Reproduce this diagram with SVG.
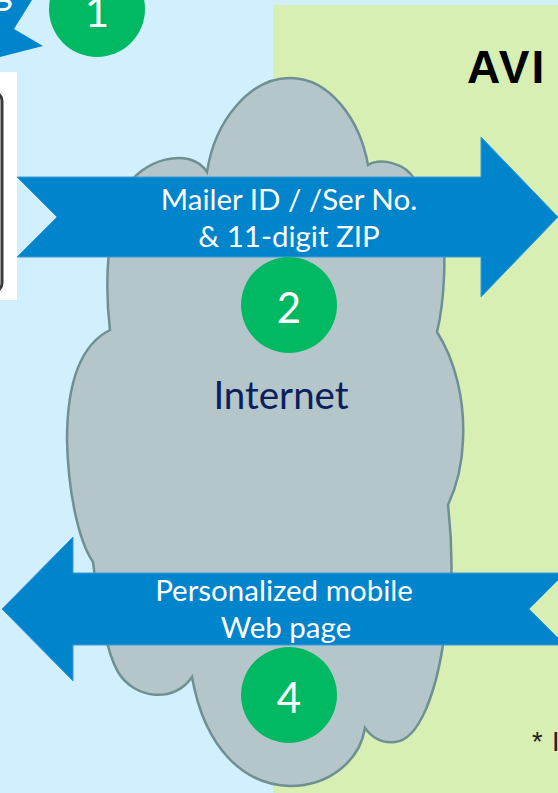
<svg xmlns="http://www.w3.org/2000/svg" width="558" height="793" viewBox="0 0 558 793">
<style>
.arrow{fill:#0084CB;stroke:#3A9BD8;stroke-width:1}
.badge{fill:#00B962}
.num{font-family:Lato,"Liberation Sans",sans-serif;font-size:42px;fill:#fff;text-anchor:middle}
.lbl{font-family:Lato,"Liberation Sans",sans-serif;font-size:29.5px;fill:#fff;text-anchor:middle}
</style>
<rect id="bg" x="0" y="0" width="558" height="793" fill="#D1EFFD"/>
<rect id="avi-panel" x="273" y="5" width="285" height="788" fill="#D8EFB3"/>
<g id="phone">
  <rect x="0" y="72" width="17" height="228" fill="#fff"/>
  <rect x="-40" y="92" width="42" height="200" rx="9" fill="none" stroke="#3a3a3a" stroke-width="3"/>
</g>
<g id="callout1">
  <polygon points="0,0 32,0 14,29 43,46 0,57" fill="#0084CB"/>
  <text x="-8" y="4" font-family="Lato,'Liberation Sans',sans-serif" font-size="40" fill="#fff">g</text>
</g>
<g id="step1">
  <circle class="badge" cx="97" cy="9" r="48"/>
  <text class="num" x="97" y="27">1</text>
</g>
<g id="cloud">
  <path d="M110,330 C104,280 108,220 125,190 C140,160 190,145 207,172 C215,120 250,78 290,78 C330,78 360,120 368,165 C380,158 405,162 415,180 C440,200 446,240 444,277 C443,300 440,320 437,332 C455,360 465,400 463,440 C462,470 455,490 448,505 C452,540 455,600 443,645 C436,690 420,740 395,742 C380,744 370,735 365,728 C360,760 330,786 290,786 C245,785 205,750 192,677 C175,703 135,700 118,672 C108,655 100,620 93,562 C78,540 68,490 67,440 C67,385 80,345 110,330 Z" fill="#B4C6CA" stroke="#6F9093" stroke-width="2.5"/>
  <text x="281" y="409" font-family="Lato,'Liberation Sans',sans-serif" font-size="38.5" fill="#0A1F5C" text-anchor="middle">Internet</text>
</g>
<g id="connectors">
  <g id="arrow-request">
    <polygon class="arrow" points="17,177 481,177 481,137 558,217 481,297 481,257 17,257 57,217"/>
    <text class="lbl" x="289" y="210">Mailer ID / /Ser No.</text>
    <text class="lbl" x="289" y="247">&amp; 11-digit ZIP</text>
  </g>
  <g id="arrow-response">
    <polygon class="arrow" points="2,609 73,537 73,573 565,573 529,609 565,645 73,645 73,681"/>
    <text class="lbl" x="284" y="601">Personalized mobile</text>
    <text class="lbl" x="286" y="638">Web page</text>
  </g>
</g>
<g id="step2">
  <circle class="badge" cx="289" cy="305" r="48"/>
  <text class="num" x="289" y="323">2</text>
</g>
<g id="step4">
  <circle class="badge" cx="289" cy="695" r="48"/>
  <text class="num" x="289" y="713">4</text>
</g>
<g id="avi-title">
  <text x="467" y="83" font-family="'Liberation Sans',Arial,sans-serif" font-size="46" font-weight="bold" letter-spacing="2" fill="#000">AVI</text>
</g>
<g id="footnote">
  <text x="532" y="751" font-family="'Liberation Sans',Arial,sans-serif" font-size="27" fill="#222">*<tspan x="552">I</tspan></text>
</g>
</svg>
